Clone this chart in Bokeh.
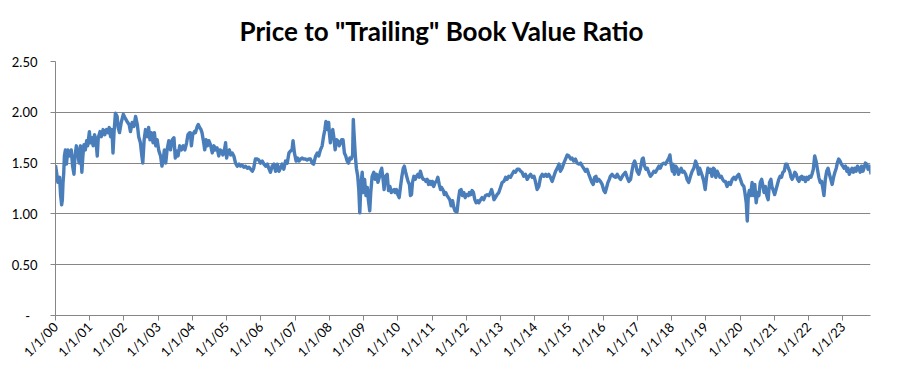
from math import pi
from bokeh.plotting import figure
from bokeh.models import FixedTicker, Range1d, Title
from bokeh.embed import file_html
from bokeh.resources import INLINE

# x = years since 1/1/2000, y = price to trailing book value ratio
years = [
    0.00, 0.03, 0.07, 0.12, 0.15, 0.18, 0.20, 0.22, 0.24, 0.26, 0.29, 0.32, 0.36, 0.41, 0.46, 0.50,
    0.54, 0.57, 0.61, 0.65, 0.69, 0.73, 0.77, 0.80, 0.83, 0.87, 0.91, 0.94, 0.99, 1.02, 1.06, 1.10,
    1.14, 1.18, 1.22, 1.25, 1.30, 1.34, 1.39, 1.44, 1.49, 1.53, 1.57, 1.61, 1.65, 1.68, 1.71, 1.75,
    1.80, 1.83, 1.87, 1.92, 1.98, 2.04, 2.09, 2.15, 2.19, 2.24, 2.29, 2.34, 2.39, 2.43, 2.48, 2.52,
    2.55, 2.59, 2.63, 2.68, 2.72, 2.76, 2.80, 2.85, 2.89, 2.93, 2.97, 3.02, 3.07, 3.11, 3.15, 3.18,
    3.22, 3.26, 3.31, 3.36, 3.41, 3.46, 3.50, 3.53, 3.58, 3.63, 3.68, 3.73, 3.78, 3.83, 3.87, 3.92,
    3.94, 3.97, 4.01, 4.06, 4.09, 4.14, 4.17, 4.21, 4.25, 4.28, 4.33, 4.36, 4.40, 4.44, 4.48, 4.53,
    4.58, 4.63, 4.67, 4.72, 4.77, 4.81, 4.85, 4.89, 4.93, 4.97, 5.00, 5.04, 5.08, 5.12, 5.16, 5.21,
    5.26, 5.31, 5.36, 5.40, 5.45, 5.50, 5.55, 5.60, 5.65, 5.70, 5.75, 5.79, 5.84, 5.89, 5.94, 5.99,
    6.04, 6.09, 6.14, 6.19, 6.23, 6.28, 6.33, 6.38, 6.43, 6.48, 6.53, 6.57, 6.62, 6.67, 6.72, 6.77,
    6.82, 6.87, 6.91, 6.94, 6.98, 7.03, 7.07, 7.11, 7.16, 7.21, 7.25, 7.30, 7.35, 7.40, 7.45, 7.50,
    7.54, 7.60, 7.65, 7.69, 7.74, 7.79, 7.83, 7.87,
    7.90, 7.94, 7.98, 8.00, 8.03, 8.06, 8.10, 8.13, 8.17, 8.21, 8.25, 8.29, 8.33, 8.36, 8.40, 8.44,
    8.48, 8.52, 8.56, 8.60, 8.64, 8.68, 8.70, 8.72, 8.76, 8.79, 8.83, 8.86, 8.89, 8.92, 8.96, 8.99,
    9.03, 9.07, 9.11, 9.14, 9.18, 9.21, 9.25, 9.30, 9.34, 9.38, 9.42, 9.46, 9.49, 9.53, 9.57, 9.60,
    9.64, 9.69, 9.73, 9.77, 9.81, 9.85, 9.89, 9.92, 9.96, 10.00, 10.04, 10.08, 10.12, 10.16, 10.19,
    10.23, 10.26, 10.30, 10.34, 10.37, 10.40, 10.43, 10.47, 10.51, 10.55, 10.59, 10.63, 10.66, 10.70,
    10.74, 10.78, 10.82, 10.86, 10.90, 10.94, 10.98, 11.01, 11.05, 11.09, 11.13, 11.17, 11.21, 11.25,
    11.28, 11.33, 11.36, 11.40, 11.44, 11.48, 11.52, 11.56, 11.60, 11.64, 11.67,
    11.73, 11.77, 11.81, 11.85, 11.89, 11.93, 11.97, 12.01, 12.06, 12.09, 12.13, 12.17, 12.21, 12.25,
    12.29, 12.33, 12.37, 12.42, 12.46, 12.51, 12.56, 12.61, 12.66, 12.71, 12.74, 12.78, 12.81, 12.85,
    12.90, 12.95, 13.00, 13.05, 13.10, 13.15, 13.19, 13.24, 13.29, 13.34, 13.39, 13.44, 13.49, 13.54,
    13.59, 13.63, 13.68, 13.73, 13.78, 13.83, 13.88, 13.93, 13.98, 14.02, 14.07, 14.12, 14.17, 14.22,
    14.27, 14.32, 14.36, 14.41, 14.46, 14.51, 14.56, 14.61, 14.66, 14.71, 14.75, 14.80, 14.85, 14.90,
    14.95, 15.00, 15.05, 15.09, 15.14, 15.19, 15.24, 15.29, 15.34, 15.39, 15.43, 15.48, 15.53, 15.58,
    15.67, 15.71, 15.75, 15.79, 15.82, 15.87, 15.92, 15.97, 16.02, 16.06, 16.10, 16.14, 16.18, 16.21,
    16.26, 16.31, 16.36, 16.41, 16.46, 16.51, 16.56, 16.60, 16.65, 16.70, 16.75, 16.80, 16.84, 16.88,
    16.92, 16.95, 16.99, 17.04, 17.09, 17.14, 17.17, 17.21, 17.25, 17.29, 17.33, 17.38, 17.43, 17.48,
    17.53, 17.58, 17.63, 17.67, 17.72, 17.77, 17.82, 17.87, 17.92, 17.95, 17.98, 18.02, 18.04, 18.08,
    18.12, 18.16, 18.20, 18.24, 18.28, 18.32, 18.36, 18.41, 18.45, 18.50, 18.55, 18.60, 18.65, 18.70,
    18.75, 18.79, 18.82, 18.86, 18.90, 18.94, 18.98, 19.02, 19.06, 19.10, 19.14, 19.18, 19.22, 19.25,
    19.29, 19.33, 19.37, 19.41, 19.45, 19.49, 19.53,
    19.57, 19.62, 19.67, 19.72, 19.77, 19.82, 19.87, 19.91, 19.96, 20.01, 20.06, 20.11, 20.14, 20.18,
    20.21, 20.24, 20.27, 20.31, 20.35, 20.39, 20.43, 20.47, 20.51, 20.55, 20.59, 20.63, 20.66, 20.70,
    20.74, 20.78, 20.82, 20.86, 20.90, 20.93, 20.97, 21.01, 21.05, 21.09, 21.13, 21.17, 21.21, 21.25,
    21.29, 21.33, 21.37, 21.41, 21.45, 21.49, 21.52, 21.56, 21.60, 21.64, 21.68, 21.72, 21.76, 21.80,
    21.83, 21.87, 21.91, 21.95, 21.99, 22.03, 22.07, 22.10, 22.14, 22.18, 22.22, 22.26, 22.30, 22.34,
    22.38, 22.41, 22.45, 22.49, 22.53, 22.57, 22.61, 22.65, 22.69, 22.73, 22.77, 22.81, 22.84, 22.88,
    22.92, 22.96, 23.00, 23.04, 23.08, 23.12, 23.15, 23.19, 23.23, 23.27, 23.31, 23.35, 23.39, 23.43,
    23.47, 23.51, 23.55, 23.59, 23.62, 23.66, 23.70, 23.74, 23.78, 23.81, 23.83,
]
ratio = [
    1.48, 1.41, 1.31, 1.36, 1.18, 1.09, 1.14, 1.31, 1.40, 1.57, 1.63, 1.49, 1.63, 1.57, 1.63, 1.47,
    1.39, 1.57, 1.67, 1.60, 1.50, 1.67, 1.41, 1.57, 1.68, 1.63, 1.72, 1.67, 1.81, 1.70, 1.75, 1.67,
    1.78, 1.73, 1.57, 1.75, 1.81, 1.76, 1.83, 1.78, 1.83, 1.80, 1.85, 1.76, 1.83, 1.60, 1.80, 1.99,
    1.96, 1.85, 1.80, 1.90, 1.98, 1.94, 1.91, 1.88, 1.81, 1.90, 1.86, 1.96, 1.88, 1.76, 1.70, 1.58,
    1.50, 1.73, 1.83, 1.76, 1.85, 1.73, 1.80, 1.70, 1.80, 1.67, 1.73, 1.62, 1.57, 1.47, 1.54, 1.63,
    1.50, 1.63, 1.72, 1.63, 1.73, 1.75, 1.55, 1.62, 1.57, 1.67, 1.63, 1.67, 1.63, 1.70, 1.78, 1.80,
    1.80, 1.67, 1.78, 1.81, 1.80, 1.86, 1.88, 1.85, 1.83, 1.80, 1.70, 1.63, 1.73, 1.67, 1.72, 1.68,
    1.60, 1.67, 1.63, 1.65, 1.57, 1.63, 1.62, 1.58, 1.62, 1.70, 1.55, 1.62, 1.63, 1.58, 1.60, 1.57,
    1.50, 1.47, 1.49, 1.47, 1.48, 1.46, 1.47, 1.45, 1.46, 1.44, 1.42, 1.45, 1.54, 1.54, 1.53, 1.50,
    1.52, 1.49, 1.47, 1.49, 1.45, 1.41, 1.47, 1.49, 1.42, 1.49, 1.42, 1.45, 1.49, 1.44, 1.52, 1.50,
    1.60, 1.62, 1.63, 1.72, 1.60, 1.52, 1.55, 1.52, 1.54, 1.55, 1.54, 1.54, 1.53, 1.54, 1.54, 1.50,
    1.49, 1.57, 1.60, 1.57, 1.63, 1.67, 1.76, 1.83,
    1.91, 1.83, 1.90, 1.80, 1.70, 1.80, 1.83, 1.76, 1.63, 1.73, 1.72, 1.67, 1.70, 1.73, 1.73, 1.60,
    1.57, 1.52, 1.50, 1.55, 1.54, 1.58, 1.93, 1.80, 1.57, 1.45, 1.37, 1.24, 1.01, 1.27, 1.41, 1.21,
    1.34, 1.18, 1.26, 1.14, 1.03, 1.21, 1.37, 1.41, 1.34, 1.39, 1.31, 1.36, 1.41, 1.45, 1.34, 1.24,
    1.37, 1.39, 1.23, 1.27, 1.21, 1.23, 1.24, 1.21, 1.24, 1.19, 1.16, 1.27, 1.37, 1.45, 1.47,
    1.41, 1.37, 1.32, 1.29, 1.18, 1.19, 1.31, 1.37, 1.34, 1.37, 1.39, 1.36, 1.42, 1.37,
    1.34, 1.34, 1.32, 1.34, 1.29, 1.32, 1.29, 1.32, 1.27, 1.31, 1.32, 1.36, 1.29, 1.24,
    1.26, 1.23, 1.19, 1.21, 1.18, 1.16, 1.14, 1.08, 1.13, 1.06, 1.03,
    1.02, 1.14, 1.23, 1.24, 1.18, 1.21, 1.16, 1.19, 1.18, 1.21, 1.19, 1.23, 1.21, 1.14,
    1.11, 1.13, 1.11, 1.14, 1.16, 1.14, 1.18, 1.19, 1.18, 1.21, 1.24, 1.19, 1.14, 1.16,
    1.19, 1.21, 1.26, 1.31, 1.32, 1.36, 1.34, 1.37, 1.36, 1.39, 1.42, 1.41, 1.44, 1.44,
    1.42, 1.41, 1.37, 1.39, 1.34, 1.37, 1.39, 1.36, 1.37, 1.32, 1.24, 1.27, 1.36, 1.39,
    1.37, 1.39, 1.37, 1.39, 1.36, 1.32, 1.37, 1.42, 1.45, 1.49, 1.42, 1.45, 1.50, 1.54,
    1.58, 1.57, 1.54, 1.55, 1.52, 1.54, 1.50, 1.49, 1.50, 1.47, 1.45, 1.42, 1.44, 1.39,
    1.31, 1.29, 1.36, 1.37, 1.32, 1.34, 1.32, 1.29, 1.23, 1.21, 1.26, 1.31, 1.34, 1.37,
    1.39, 1.37, 1.36, 1.39, 1.36, 1.34, 1.37, 1.39, 1.41, 1.36, 1.32, 1.34, 1.42, 1.49,
    1.52, 1.49, 1.42, 1.39, 1.45, 1.54, 1.55, 1.47, 1.44, 1.45, 1.41, 1.37, 1.39, 1.42,
    1.41, 1.44, 1.47, 1.45, 1.49, 1.50, 1.49, 1.52, 1.55, 1.58, 1.50, 1.42, 1.49, 1.39,
    1.47, 1.45, 1.39, 1.42, 1.45, 1.41, 1.42, 1.39, 1.34, 1.31, 1.37, 1.42, 1.45, 1.52,
    1.47, 1.39, 1.45, 1.41, 1.37, 1.32, 1.24, 1.36, 1.45, 1.41, 1.44, 1.37, 1.45, 1.44,
    1.36, 1.42, 1.39, 1.36, 1.37, 1.34, 1.32,
    1.32, 1.27, 1.31, 1.29, 1.34, 1.36, 1.34, 1.37, 1.39, 1.34, 1.29, 1.27, 1.21, 1.11,
    0.93, 1.18, 1.23, 1.18, 1.31, 1.18, 1.29, 1.11, 1.21, 1.18, 1.31, 1.34, 1.29, 1.21,
    1.27, 1.18, 1.14, 1.31, 1.34, 1.27, 1.23, 1.19, 1.24, 1.29, 1.34, 1.37, 1.36, 1.41,
    1.42, 1.49, 1.49, 1.45, 1.42, 1.36, 1.34, 1.37, 1.41, 1.39, 1.34, 1.32, 1.36, 1.37,
    1.34, 1.36, 1.32, 1.36, 1.34, 1.37, 1.36, 1.39, 1.44, 1.57, 1.52, 1.44, 1.36, 1.31,
    1.32, 1.27, 1.18, 1.34, 1.42, 1.45, 1.39, 1.34, 1.29, 1.36, 1.41, 1.45, 1.50, 1.54,
    1.52, 1.49, 1.47, 1.45, 1.47, 1.42, 1.45, 1.39, 1.42, 1.45, 1.41, 1.45, 1.42, 1.47,
    1.45, 1.41, 1.47, 1.42, 1.45, 1.50, 1.49, 1.44, 1.47, 1.42, 1.39,
]

x_tick_years = list(range(0, 24))
x_tick_labels = ["1/1/00", "1/1/01", "1/1/02", "1/1/03", "1/1/04", "1/1/05", "1/1/06", "1/1/07",
                 "1/1/08", "1/1/09", "1/1/10", "1/1/11", "1/1/12", "1/1/13", "1/1/14", "1/1/15",
                 "1/1/16", "1/1/17", "1/1/18", "1/1/19", "1/1/20", "1/1/21", "1/1/22", "1/1/23"]
y_ticks = [0.0, 0.5, 1.0, 1.5, 2.0, 2.5]
y_tick_labels = ["-\u2007", "0.50", "1.00", "1.50", "2.00", "2.50"]

title_text = 'Price to "Trailing" Book Value Ratio'

GRID = "#868686"
LINE = "#4A7EBB"
FONT = "Lato"

p = figure(width=890, height=369, output_backend="svg", toolbar_location=None,
           x_range=Range1d(0, 23.81), y_range=Range1d(0, 2.5),
           min_border_left=55, min_border_right=20, min_border_top=61, min_border_bottom=54)
p.title = None

# first "above" panel is nearest the frame: a tiny spacer, then the real title above it
p.add_layout(Title(text="\u200b", text_font_size="1px", standoff=12), "above")
p.add_layout(Title(text=title_text, text_font=FONT, text_font_style="bold",
                   text_font_size="26px", text_color="#000000",
                   align="left", offset=184, standoff=0), "above")

xax = p.below[0]
yax = p.left[0]

p.line(years, ratio, line_color=LINE, line_width=3.4, line_join="round")

p.outline_line_color = None
p.background_fill_color = "white"
p.border_fill_color = "white"

p.xgrid.visible = False
p.ygrid.grid_line_color = GRID
p.ygrid.grid_line_width = 1
p.ygrid.ticker = FixedTicker(ticks=y_ticks)

for ax in (xax, yax):
    ax.axis_line_color = GRID
    ax.major_tick_line_color = GRID
    ax.major_tick_in = 0
    ax.major_tick_out = 5
    ax.minor_tick_line_color = None
    ax.major_label_text_font = FONT
    ax.major_label_text_font_size = "13px"
    ax.major_label_text_color = "#000000"

xax.ticker = FixedTicker(ticks=x_tick_years)
xax.major_label_overrides = {t: l for t, l in zip(x_tick_years, x_tick_labels)}
xax.major_label_orientation = pi / 4
xax.major_label_standoff = 4

yax.ticker = FixedTicker(ticks=y_ticks)
yax.major_label_overrides = {t: l for t, l in zip(y_ticks, y_tick_labels)}
yax.major_label_standoff = 13

open("out.html", "w").write(file_html(p, INLINE))
